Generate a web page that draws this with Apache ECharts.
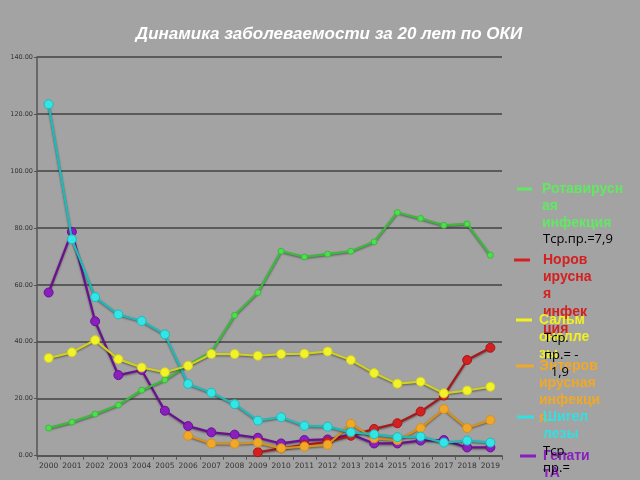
<!DOCTYPE html>
<html><head><meta charset="utf-8">
<script src="https://cdn.jsdelivr.net/npm/echarts@6/dist/echarts.min.js"></script>
<style>html,body{margin:0;padding:0;background:#a3a3a3}#c{width:640px;height:480px}</style>
</head><body><div id="c"></div>
<script>
const years = ['2000','2001','2002','2003','2004','2005','2006','2007','2008','2009','2010','2011','2012','2013','2014','2015','2016','2017','2018','2019'];
const rota = [9.7,11.8,14.6,17.8,23.0,26.6,31.8,36.5,49.3,57.3,71.8,69.8,70.8,71.8,75.1,85.4,83.3,80.9,81.4,70.4];
const noro = [null,null,null,null,null,null,null,null,null,1.2,2.6,3.8,4.9,7.0,9.4,11.4,15.5,21.1,33.6,37.9];
const salm = [34.3,36.3,40.6,33.9,31.0,29.3,31.6,35.7,35.7,35.1,35.7,35.8,36.6,33.6,29.0,25.3,26.0,21.9,22.9,24.2];
const entero = [null,null,null,null,null,null,7.0,4.3,4.2,4.6,2.6,3.2,3.8,11.2,6.1,5.5,9.7,16.4,9.7,12.5];
const shig = [123.4,76.0,55.7,49.6,47.3,42.6,25.2,22.1,18.1,12.3,13.5,10.5,10.2,8.2,7.5,6.5,6.7,4.6,5.3,4.6];
const hepA = [57.3,78.6,47.2,28.3,30.1,15.8,10.4,8.2,7.4,6.3,4.3,5.5,5.7,7.5,4.3,4.3,5.3,5.5,2.9,2.9];
const names = ['Ротавирусная инфекция','Норовирусная инфекция','Сальмонеллезы','Энтеровирусная инфекция','Шигеллезы','Гепатит А'];

const chart = echarts.init(document.getElementById('c'));
function mk(name, data, line, mark, size, z){
  return {name, type:'line', data, z, symbol:'circle', symbolSize:size, connectNulls:false,
    lineStyle:{color:line,width:2.2,shadowColor:'rgba(0,0,0,0.45)',shadowBlur:2,shadowOffsetY:1},
    itemStyle:{color:mark,borderColor:line,borderWidth:1},
    emphasis:{disabled:true}, animation:false};
}
const legendItems = [
  {c:'#62e862', y:189, x1:517, x2:532, tx:542, t:'Ротавирусн\nая\nинфекция'},
  {c:'#d42020', y:260, x1:514, x2:530, tx:543, t:'Норов\nирусна\nя\nинфек\nция'},
  {c:'#f0f020', y:320, x1:516, x2:532, tx:539, t:'Сальм\nонелле\nзы'},
  {c:'#f0a828', y:366, x1:516, x2:534, tx:539, t:'Энтеров\nирусная\nинфекци\nя'},
  {c:'#33e0e0', y:417, x1:517, x2:534, tx:543, t:'Шигел\nлезы'},
  {c:'#8a1fc0', y:456, x1:520, x2:536, tx:543, t:'Гепати\nтА'}
];
const graphics = [];
legendItems.forEach(it=>{
  graphics.push({type:'line', shape:{x1:it.x1,y1:it.y,x2:it.x2,y2:it.y}, style:{stroke:it.c,lineWidth:3}});
  graphics.push({type:'text', x:it.tx, y:it.y-9, style:{text:it.t, fill:it.c, font:'bold 14px "Liberation Sans", Arial', lineHeight:17.4}});
});
graphics.push({type:'text', x:543, y:233, style:{text:'Тср.пр.=7,9', fill:'#000', font:'13px "Open Sans", "Liberation Sans"'}});
graphics.push({type:'text', x:544, y:330, style:{text:'Тср.\nпр.= -\n  1,9', fill:'#000', font:'13px "Open Sans", "Liberation Sans"', lineHeight:17}});
graphics.push({type:'text', x:543, y:443, style:{text:'Тср.\nпр.=', fill:'#000', font:'13px "Open Sans", "Liberation Sans"', lineHeight:17}});

chart.setOption({
  backgroundColor:'#a3a3a3',
  animation:false,
  title:{text:'Динамика заболеваемости за 20 лет по ОКИ', left:324, textAlign:'center', top:21,
    textStyle:{color:'#fff', fontStyle:'italic', fontWeight:'bold', fontSize:17, fontFamily:'"Liberation Sans", Arial'}},
  grid:{left:37, right:138, top:57, bottom:24.3},
  xAxis:{type:'category', data:years, boundaryGap:true,
    axisLine:{lineStyle:{color:'#555',width:1.5}},
    axisTick:{show:true, lineStyle:{color:'#555'}, length:4},
    axisLabel:{color:'#333', fontSize:7.5, margin:6, interval:0, fontFamily:'"DejaVu Sans", sans-serif'}},
  yAxis:{type:'value', min:0, max:140, interval:20,
    axisLine:{show:true, lineStyle:{color:'#555',width:1.5}},
    axisTick:{show:true, lineStyle:{color:'#555'}, length:3},
    splitLine:{lineStyle:{color:'#5a5a5a', width:2}},
    axisLabel:{color:'#333', fontSize:6.5, margin:4, formatter:v=>v.toFixed(2), fontFamily:'"DejaVu Sans", sans-serif'}},
  series:[
    mk(names[5], hepA, '#6a1090', '#8a1fc0', 9, 2),
    mk(names[1], noro, '#a81818', '#d42020', 9, 3),
    mk(names[0], rota, '#3cb83c', '#4de04d', 6, 4),
    mk(names[3], entero, '#d8901c', '#f0a828', 9, 5),
    mk(names[4], shig, '#20b8b8', '#33e6e6', 9, 6),
    mk(names[2], salm, '#d0d020', '#f2f22a', 9, 7)
  ],
  graphic:graphics
});
</script></body></html>
